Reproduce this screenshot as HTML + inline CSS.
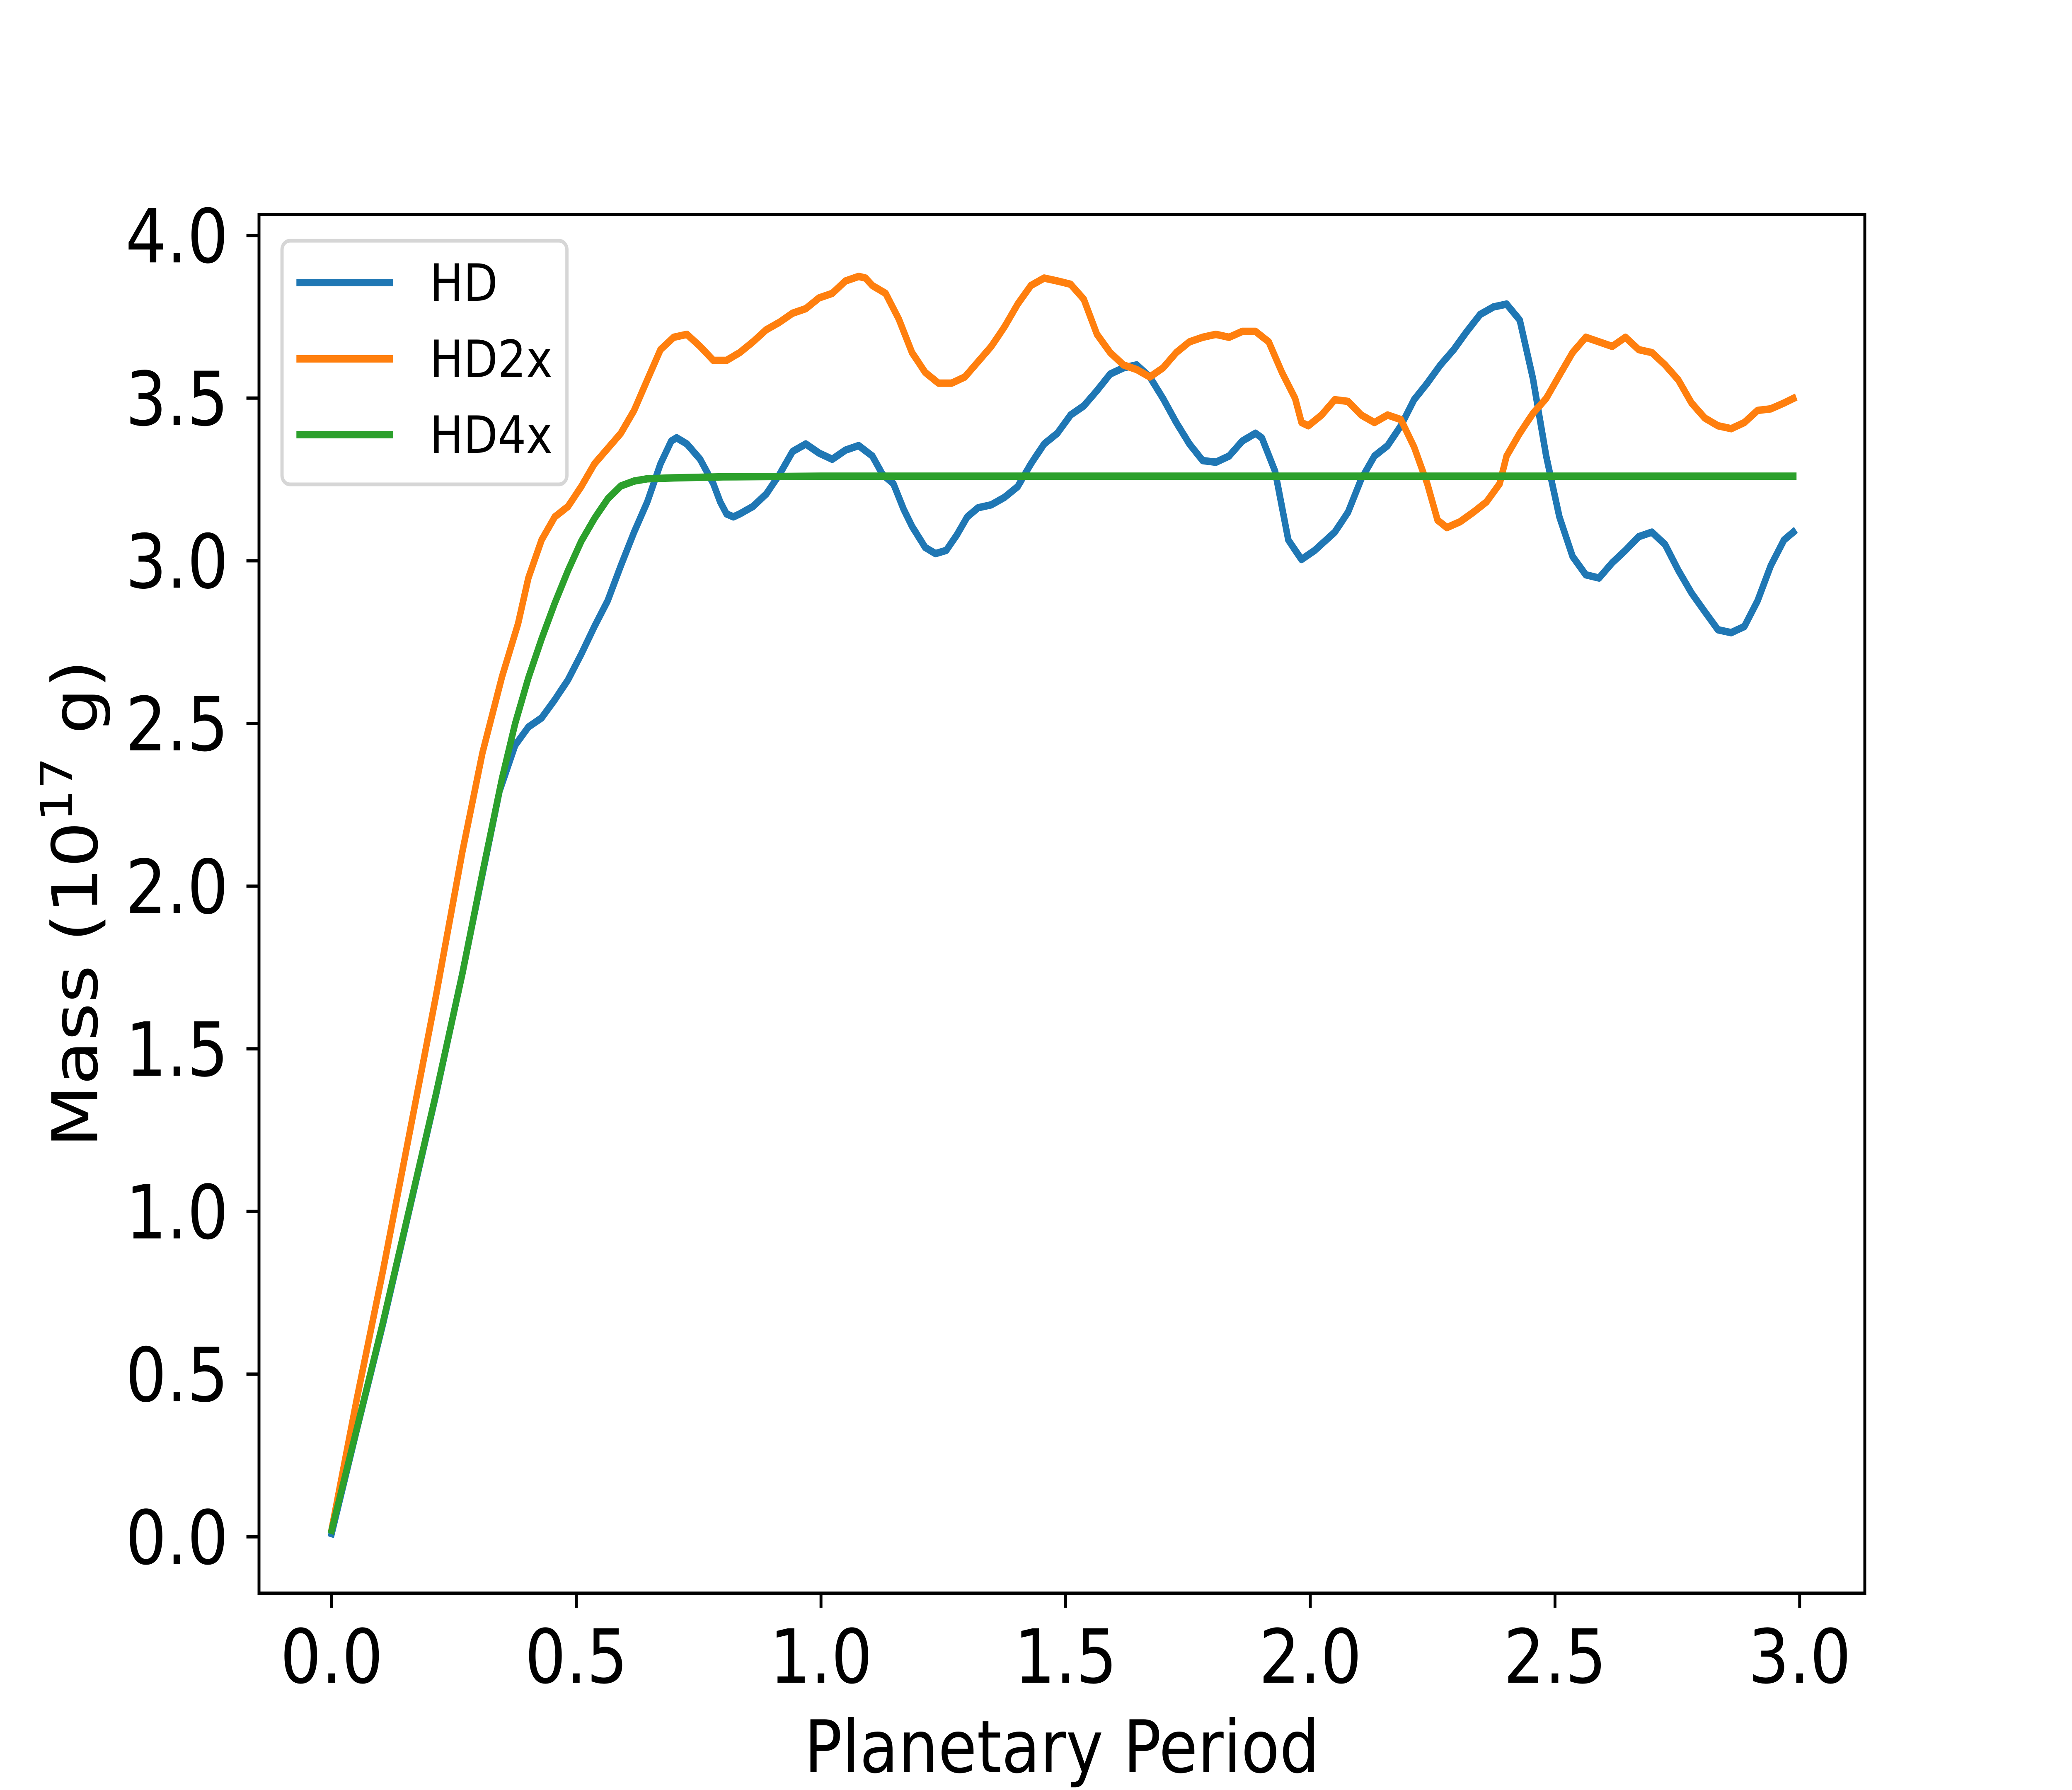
<!DOCTYPE html>
<html><head><meta charset="utf-8"><style>
html,body{margin:0;padding:0;background:#fff;overflow:hidden;width:100%;height:100%;}
svg{display:block;width:100vw;height:100vh;}
text{font-family:"DejaVu Sans","Liberation Sans",sans-serif;fill:#000;}
</style></head><body>
<svg id="chart" xmlns="http://www.w3.org/2000/svg" viewBox="0 0 5760 4320" preserveAspectRatio="none">
<rect width="5760" height="4320" fill="#fff"/>
<g id="series"></g>
<g id="axes"></g>
<g id="legend"></g>
</svg>
<script>
const hdX=[0,0.051,0.105,0.159,0.213,0.267,0.308,0.343,0.375,0.402,0.429,0.456,0.483,0.510,0.537,0.564,0.591,0.618,0.645,0.672,0.694,0.705,0.726,0.753,0.780,0.794,0.807,0.821,0.834,0.861,0.888,0.915,0.942,0.969,0.996,1.023,1.050,1.077,1.105,1.126,1.148,1.169,1.186,1.213,1.234,1.256,1.277,1.299,1.321,1.348,1.375,1.402,1.429,1.456,1.483,1.510,1.537,1.564,1.591,1.618,1.645,1.672,1.699,1.726,1.753,1.780,1.807,1.834,1.861,1.888,1.901,1.928,1.955,1.982,2.009,2.050,2.077,2.104,2.131,2.158,2.185,2.212,2.239,2.266,2.293,2.320,2.347,2.374,2.401,2.428,2.455,2.482,2.509,2.536,2.563,2.590,2.617,2.644,2.671,2.698,2.725,2.752,2.779,2.806,2.833,2.860,2.887,2.914,2.941,2.968,2.987];
const hdY=[0.01,0.327,0.655,1.006,1.357,1.731,2.035,2.292,2.433,2.489,2.517,2.573,2.634,2.713,2.798,2.877,2.985,3.088,3.181,3.298,3.368,3.378,3.359,3.312,3.237,3.181,3.144,3.135,3.144,3.167,3.205,3.265,3.336,3.359,3.331,3.312,3.340,3.354,3.322,3.265,3.237,3.158,3.106,3.041,3.022,3.032,3.078,3.135,3.163,3.172,3.195,3.228,3.298,3.359,3.392,3.448,3.476,3.523,3.574,3.593,3.602,3.565,3.499,3.425,3.359,3.308,3.303,3.322,3.368,3.392,3.378,3.275,3.064,3.004,3.032,3.088,3.149,3.251,3.322,3.354,3.415,3.495,3.546,3.602,3.649,3.705,3.757,3.780,3.789,3.740,3.560,3.322,3.135,3.013,2.957,2.947,2.994,3.032,3.074,3.088,3.050,2.971,2.901,2.844,2.788,2.779,2.798,2.877,2.985,3.064,3.088];
const hd2X=[0,0.051,0.105,0.159,0.213,0.267,0.308,0.348,0.381,0.402,0.429,0.456,0.483,0.510,0.537,0.564,0.591,0.618,0.645,0.672,0.699,0.726,0.753,0.780,0.807,0.834,0.861,0.888,0.915,0.942,0.969,0.996,1.023,1.050,1.077,1.091,1.105,1.132,1.159,1.186,1.213,1.240,1.267,1.294,1.321,1.348,1.375,1.402,1.429,1.456,1.483,1.510,1.537,1.564,1.591,1.618,1.645,1.672,1.699,1.726,1.753,1.780,1.807,1.834,1.861,1.888,1.915,1.942,1.969,1.982,1.996,2.023,2.050,2.077,2.104,2.131,2.158,2.185,2.212,2.239,2.260,2.279,2.306,2.333,2.360,2.387,2.401,2.428,2.455,2.482,2.509,2.536,2.563,2.590,2.617,2.644,2.671,2.698,2.725,2.752,2.779,2.806,2.833,2.860,2.887,2.914,2.941,2.968,2.987];
const hd2Y=[0.023,0.421,0.819,1.240,1.661,2.105,2.409,2.643,2.807,2.947,3.064,3.135,3.167,3.228,3.298,3.345,3.392,3.462,3.556,3.649,3.687,3.696,3.659,3.616,3.616,3.640,3.673,3.710,3.733,3.761,3.775,3.808,3.822,3.860,3.874,3.869,3.846,3.822,3.743,3.640,3.579,3.546,3.546,3.565,3.612,3.659,3.719,3.789,3.846,3.869,3.860,3.850,3.804,3.696,3.640,3.602,3.588,3.565,3.593,3.640,3.673,3.687,3.696,3.687,3.705,3.705,3.673,3.579,3.499,3.425,3.415,3.448,3.495,3.490,3.448,3.425,3.448,3.434,3.350,3.237,3.125,3.102,3.120,3.149,3.181,3.237,3.322,3.392,3.453,3.499,3.570,3.640,3.687,3.673,3.659,3.687,3.649,3.640,3.602,3.556,3.485,3.439,3.415,3.406,3.425,3.462,3.467,3.485,3.499];
const hd4X=[0,0.051,0.105,0.159,0.213,0.267,0.308,0.348,0.375,0.402,0.429,0.456,0.483,0.510,0.537,0.564,0.591,0.618,0.645,0.70,0.8,1.0,1.5,2.0,2.5,2.987];
const hd4Y=[0.02,0.33,0.66,1.01,1.36,1.73,2.04,2.33,2.50,2.64,2.76,2.87,2.97,3.06,3.13,3.19,3.23,3.245,3.252,3.255,3.258,3.26,3.26,3.26,3.26,3.26];
const xTicks=[0,0.5,1.0,1.5,2.0,2.5,3.0];
const xTickLabels=["0.0","0.5","1.0","1.5","2.0","2.5","3.0"];
const yTicks=[0,0.5,1,1.5,2,2.5,3,3.5,4];
const yTickLabels=["0.0","0.5","1.0","1.5","2.0","2.5","3.0","3.5","4.0"];
const seriesNames=["HD","HD2x","HD4x"];

const NS="http://www.w3.org/2000/svg";
const L=720,R=5184,T=518,B=3845;
const X0=922,XS=1360.3;
const Y0=3709,YS=785.2;
function sx(v){return X0+v*XS;}
function sy(v){return Y0-v*YS;}
function mk(tag,attrs,parent){const e=document.createElementNS(NS,tag);for(const k in attrs)e.setAttribute(k,attrs[k]);parent.appendChild(e);return e;}
const gS=document.getElementById('series'),gA=document.getElementById('axes'),gL=document.getElementById('legend');
const colors=["#1f77b4","#ff7f0e","#2ca02c"];
const sets=[[hdX,hdY],[hd2X,hd2Y],[hd4X,hd4Y]];
sets.forEach((s,i)=>{
  const d=s[0].map((x,j)=>(j?'L':'M')+sx(x).toFixed(1)+' '+sy(s[1][j]).toFixed(1)).join(' ');
  const p=mk('path',{d:d,fill:'none',stroke:colors[i],'stroke-width':18,'stroke-linejoin':'round','stroke-linecap':'square'},gS);
  
  
});
const frame=mk('rect',{x:L,y:T,width:R-L,height:B-T,fill:'none',stroke:'#000','stroke-width':8},gA);


xTicks.forEach((v,i)=>{
  const t=mk('line',{x1:sx(v),x2:sx(v),y1:B,y2:B+35,stroke:'#000','stroke-width':8},gA);
  
  
  const tx=mk('text',{x:sx(v),y:4061,'text-anchor':'middle','font-size':180},gA);
  tx.textContent=xTickLabels[i];
  
  
});
yTicks.forEach((v,i)=>{
  const t=mk('line',{x1:L-35,x2:L,y1:sy(v),y2:sy(v),stroke:'#000','stroke-width':8},gA);
  
  
  const tx=mk('text',{x:635,y:sy(v)+65,'text-anchor':'end','font-size':180},gA);
  tx.textContent=yTickLabels[i];
  
  
});
const xl=mk('text',{x:2952,y:4277,'text-anchor':'middle','font-size':175},gA);
xl.textContent='Planetary Period';


const yl=mk('text',{x:0,y:0,'text-anchor':'middle','font-size':175,transform:'translate(270,2181) rotate(-90)'},gA);
yl.innerHTML='Mass (10<tspan dy="-70" font-size="122">17</tspan><tspan dy="70"> g)</tspan>';


const lb=mk('rect',{x:784,y:581,width:792,height:588,rx:22,fill:'#fff','fill-opacity':0.8,stroke:'#d6d6d6','stroke-width':9},gL);


const ly=[682,866,1049];
seriesNames.forEach((n,i)=>{
  const ln=mk('line',{x1:824,x2:1093,y1:ly[i],y2:ly[i],stroke:colors[i],'stroke-width':18},gL);
  
  
  const tx=mk('text',{x:1195,y:ly[i]+44,'font-size':124},gL);
  tx.textContent=n;
  
  
});
</script>
</body></html>
